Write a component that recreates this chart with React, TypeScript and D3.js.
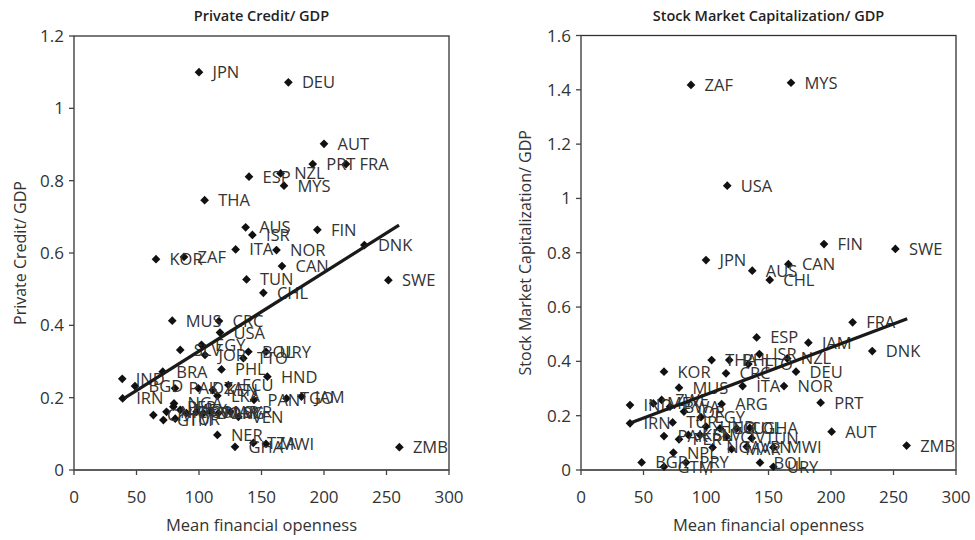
import React from "react";
import * as d3 from "d3";

// ---------- Data ----------
// Panel 1: Private credit / GDP vs mean financial openness
const creditCodes = [
  "JPN","DEU","AUT","PRT","FRA","ESP","NZL","MYS","THA","AUS","ISR","FIN","DNK","ITA","NOR","KOR","ZAF","CAN",
  "TUN","SWE","CHL","MUS","CRC","USA","SLV","EGY","JOR","TTO","BOL","URY","PHL","HND","BRA","IND","BGD","IRN",
  "PAK","DZA","KEN","LKA","ECU","PAN","TGO","JAM","VEN","NER","GHA","TZA","MWI","ZMB",
  "GTM","TUR","CIV","NIC","PER","MEX","PRY","COL","DOM","MAR","ARG","SYR","NGA"
];
const creditOpen = [
  100,171.5,200,191,217.6,140,165.3,168,104.5,137.3,142.7,194.7,232.3,129.3,162,65.6,88,166.4,
  138,251.5,151.5,78.6,116,116.8,85,102,104.8,135.5,139.5,153.6,118,154.7,71,38.6,48.8,38.9,
  80.8,99.5,111,114.7,123.5,144,170,182,131.5,114.7,128.8,143.5,153.6,260.3,
  71.5,81,63.5,74,79.5,85,90,98,103.5,109,115.5,125,80
];
const creditValue = [
  1.10,1.072,0.902,0.846,0.846,0.811,0.82,0.786,0.746,0.671,0.65,0.664,0.622,0.61,0.608,0.583,0.589,0.564,
  0.527,0.525,0.49,0.413,0.412,0.38,0.332,0.346,0.318,0.309,0.327,0.327,0.278,0.258,0.272,0.252,0.232,0.198,
  0.226,0.226,0.221,0.205,0.235,0.194,0.198,0.203,0.147,0.097,0.064,0.075,0.072,0.063,
  0.138,0.142,0.152,0.161,0.175,0.166,0.157,0.161,0.157,0.161,0.157,0.161,0.184
];
const creditTrendX = [40, 260];
const creditTrendY = [0.198, 0.677];

// Panel 2: Stock market capitalization / GDP vs mean financial openness
const stockCodes = [
  "ZAF","MYS","USA","JPN","AUS","CAN","CHL","FIN","SWE","FRA","ESP","JAM","DNK","ISR","NZL","THA","PHL","TTO",
  "KOR","CRC","DEU","MUS","ITA","NOR","ARG","PRT","AUT","ZMB","IND","IRN","MEX","ZWE","BWA","JOR","TUR","PAK",
  "PER","KEN","NPL","BGR","GTM","PRY","EGY","HND","ECU","COL","GHA","TUN","CIV","SLV","NGA","MAR","VEN",
  "BOL","URY","MWI"
];
const stockOpen = [
  88,168,117,100,137,165.9,151,194.4,251.5,217.3,140.5,181.9,233,142.7,165,104.5,118.6,133.9,
  66.4,116,172,78.4,129.3,162.4,112.5,191.7,200.5,260.5,39.2,39.2,57.9,64.5,71.2,82.4,73.3,66.4,
  78.4,85.9,73.9,48.5,66.4,84,96,100,111.2,124.6,135,136.5,116.5,95.2,105.3,120.5,132.6,
  143.2,153.9,153.9
];
const stockValue = [
  1.418,1.426,1.047,0.773,0.734,0.758,0.70,0.832,0.814,0.544,0.488,0.469,0.438,0.427,0.411,0.405,0.405,0.39,
  0.362,0.356,0.362,0.303,0.309,0.309,0.243,0.248,0.141,0.09,0.239,0.172,0.245,0.258,0.233,0.215,0.175,0.125,
  0.113,0.129,0.064,0.028,0.012,0.028,0.195,0.16,0.153,0.153,0.155,0.117,0.123,0.129,0.083,0.077,0.086,
  0.027,0.012,0.083
];
const stockTrendX = [40, 261];
const stockTrendY = [0.174, 0.557];

const xTicks = [0, 50, 100, 150, 200, 250, 300];
const creditYTicks = [0, 0.2, 0.4, 0.6, 0.8, 1, 1.2];
const stockYTicks = [0, 0.2, 0.4, 0.6, 0.8, 1, 1.2, 1.4, 1.6];

const FONT = "'Open Sans', 'Liberation Sans', sans-serif";
const TEXT = "#333";

type PanelProps = {
  title: string;
  yLabel: string;
  codes: string[];
  xs: number[];
  ys: number[];
  trendX: number[];
  trendY: number[];
  yTicks: number[];
  left: number;
  right: number;
  top: number;
  bottom: number;
  yLabelX: number;
};

function Panel(p: PanelProps) {
  const x = d3.scaleLinear().domain([0, 300]).range([p.left, p.right]);
  const y = d3
    .scaleLinear()
    .domain([0, p.yTicks[p.yTicks.length - 1]])
    .range([p.bottom, p.top]);
  const diamond = d3.symbol(d3.symbolSquare, 38)();
  const line = d3
    .line<number>()
    .x((_, i) => x(p.trendX[i]))
    .y((d) => y(d));
  const cx = (p.left + p.right) / 2;
  const cy = (p.top + p.bottom) / 2;
  const fmt = (v: number) => String(+v.toFixed(1));
  return (
    <g fontFamily={FONT}>
      <text x={cx} y={21} textAnchor="middle" fontSize={14.5} fontWeight={600} fill="#222">
        {p.title}
      </text>
      {/* frame */}
      <rect
        x={p.left}
        y={p.top}
        width={p.right - p.left}
        height={p.bottom - p.top}
        fill="none"
        stroke="#333"
        strokeWidth={1.3}
      />
      <line x1={p.left} x2={p.right} y1={p.bottom} y2={p.bottom} stroke="#555" strokeWidth={1.6} />
      {/* x ticks */}
      {xTicks.map((t) => (
        <g key={"x" + t}>
          <line x1={x(t)} x2={x(t)} y1={p.bottom} y2={p.bottom + 5} stroke="#444" strokeWidth={1.3} />
          <text x={x(t)} y={503} textAnchor="middle" fontSize={17} fill={TEXT}>
            {fmt(t)}
          </text>
        </g>
      ))}
      {/* y ticks */}
      {p.yTicks.map((t) => (
        <g key={"y" + t}>
          <line x1={p.left - 5} x2={p.left} y1={y(t)} y2={y(t)} stroke="#444" strokeWidth={1.3} />
          <text x={p.left - 10} y={y(t) + 6} textAnchor="end" fontSize={17} fill={TEXT}>
            {fmt(t)}
          </text>
        </g>
      ))}
      <text x={cx} y={531} textAnchor="middle" fontSize={16.5} fill={TEXT}>
        Mean financial openness
      </text>
      <text
        transform={`translate(${p.yLabelX},${cy}) rotate(-90)`}
        textAnchor="middle"
        fontSize={16}
        fill={TEXT}
      >
        {p.yLabel}
      </text>
      {/* points */}
      {p.codes.map((c, i) => (
        <g key={c + i} transform={`translate(${x(p.xs[i])},${y(p.ys[i])})`}>
          <path d={diamond || ""} transform="rotate(45)" fill="#111" />
        </g>
      ))}
      {p.codes.map((c, i) => (
        <text
          key={"t" + c + i}
          x={x(p.xs[i]) + 13.5}
          y={y(p.ys[i]) + 6}
          fontSize={16.5}
          fill={TEXT}
        >
          {c}
        </text>
      ))}
      <path d={line(p.trendY) || ""} fill="none" stroke="#1a1a1a" strokeWidth={3.2} />
    </g>
  );
}

export default function App() {
  return (
    <svg
      width={975}
      height={540}
      viewBox="0 0 975 540"
      style={{ position: "absolute", left: 0, top: 0, background: "#fff" }}
    >
      <rect width={975} height={540} fill="#fff" />
      <Panel
        title="Private Credit/ GDP"
        yLabel="Private Credit/ GDP"
        codes={creditCodes}
        xs={creditOpen}
        ys={creditValue}
        trendX={creditTrendX}
        trendY={creditTrendY}
        yTicks={creditYTicks}
        left={74}
        right={449}
        top={36}
        bottom={470}
        yLabelX={26}
      />
      <Panel
        title="Stock Market Capitalization/ GDP"
        yLabel="Stock Market Capitalization/ GDP"
        codes={stockCodes}
        xs={stockOpen}
        ys={stockValue}
        trendX={stockTrendX}
        trendY={stockTrendY}
        yTicks={stockYTicks}
        left={581}
        right={956}
        top={35.5}
        bottom={470}
        yLabelX={531}
      />
    </svg>
  );
}
